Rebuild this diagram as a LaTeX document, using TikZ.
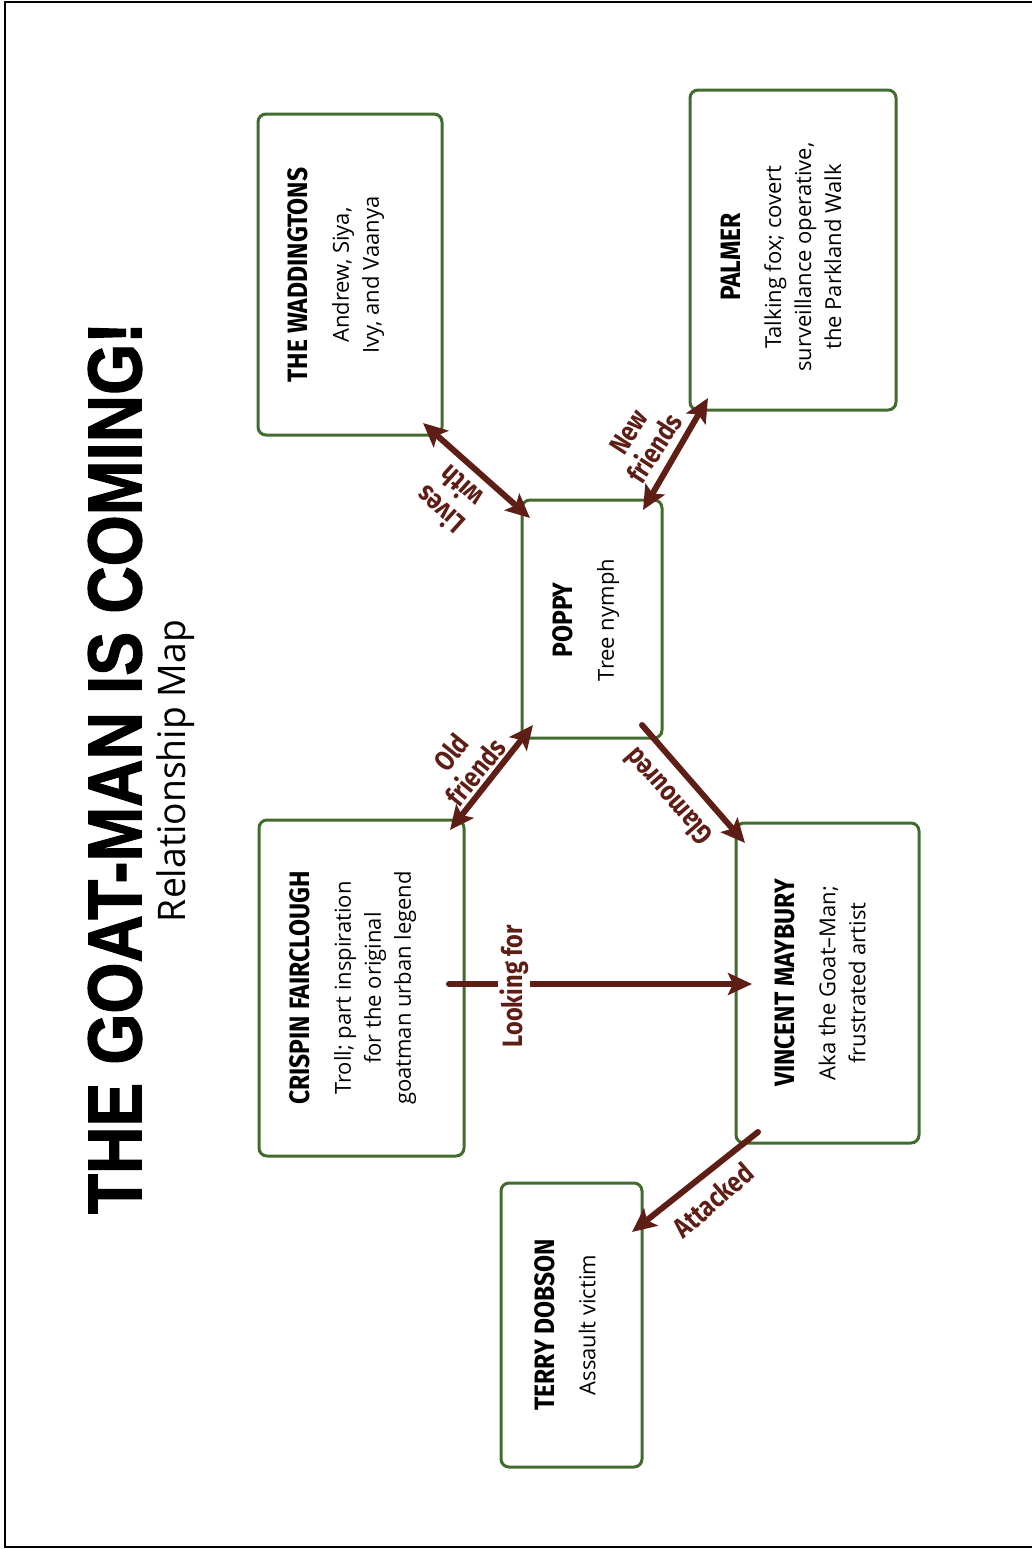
\documentclass[tikz,border=0pt]{standalone}
\usepackage{fontspec}
\usepackage{graphicx}
\usetikzlibrary{arrows.meta,calc}

\newfontfamily\headfont{Fira Sans}[FakeStretch=0.88]
\newfontfamily\labelfont{Fira Sans}[FakeStretch=0.84]
\newfontfamily\bodyfont{Open Sans}
\newfontfamily\titlefont{Liberation Sans}[FakeBold=1.6]

\definecolor{boxgreen}{RGB}{66,108,46}
\definecolor{linkred}{RGB}{94,30,22}

% heading + description inside a character card
\newcommand\card[2]{{\headfont\bfseries\fontsize{14}{15}\selectfont #1}\\[5.5pt]#2}

\tikzset{
  person/.style={draw=boxgreen, line width=1.5pt, rounded corners=4pt,
                 inner sep=0pt, outer sep=0pt},
  persontext/.style={rotate=90, align=center, inner sep=0pt,
                     font=\bodyfont\fontsize{11}{15}\selectfont},
  tipshape/.tip={Stealth[length=12pt,width=11pt,inset=2.5pt]},
  link/.style={draw=linkred, line width=3pt, line cap=round, -tipshape},
  twoway/.style={draw=linkred, line width=3pt, tipshape-tipshape},
  linklabel/.style={text=linkred, align=center, inner sep=1pt,
                    font=\labelfont\bfseries\fontsize{14}{15.5}\selectfont},
}

\begin{document}
\begin{tikzpicture}[x=0.5pt,y=-0.5pt]
\useasboundingbox (0,0) rectangle (1032,1549);

% page frame
\draw[line width=1pt] (1032,1.5) -- (5,1.5) -- (5,1546.5) -- (1032,1546.5);

% title block
\node[rotate=90, inner sep=0pt] (title) at (115,768)
  {\resizebox*{446pt}{27pt}{\titlefont\bfseries THE GOAT-MAN IS COMING!}};
\node[rotate=90, inner sep=0pt] (subtitle) at (176,771)
  {\resizebox*{151pt}{19pt}{\bodyfont Relationship Map}};

% character cards
\node[person, minimum width=92pt,   minimum height=160.5pt] (wad)     at (350,274.5) {};
\node[person, minimum width=103pt,  minimum height=160pt]   (palmer)  at (793,250)   {};
\node[person, minimum width=70pt,   minimum height=119pt]   (poppy)   at (592,619)   {};
\node[person, minimum width=102.5pt,minimum height=168pt]   (crispin) at (361.5,988) {};
\node[person, minimum width=91.5pt, minimum height=160pt]   (vincent) at (827.5,983) {};
\node[person, minimum width=70.5pt, minimum height=142pt]   (terry)   at (571.5,1325){};

\node[persontext] (wadtxt) at (336,275)
  {\card{THE WADDINGTONS}{Andrew, Siya,\\Ivy, and Vaanya}};
\node[persontext] (palmertxt) at (781,257)
  {\card{PALMER}{Talking fox; covert\\surveillance operative,\\the Parkland Walk}};
\node[persontext] (poppytxt) at (586,620)
  {\card{POPPY}{Tree nymph}};
\node[persontext] (crispintxt) at (353,988)
  {\card{CRISPIN FAIRCLOUGH}{Troll; part inspiration\\for the original\\goatman urban legend}};
\node[persontext] (vincenttxt) at (820,983)
  {\card{VINCENT MAYBURY}{Aka the Goat–Man;\\frustrated artist}};
\node[persontext] (terrytxt) at (565,1325)
  {\card{TERRY DOBSON}{Assault victim}};

% relationships
\draw[twoway] ($(wad.south east)+(-19,-12)$) -- ($(poppy.north west)+(8,18)$);
\draw[twoway] ($(poppy.north east)+(-19,10)$) -- ($(palmer.south west)+(18,-12)$);
\draw[twoway] ($(crispin.north east)+(-14,10)$) -- ($(poppy.south west)+(11,-13)$);
\draw[link] ($(poppy.south east)+(-20,-13)$) -- ($(vincent.north west)+(9,20)$);
\draw[link] ($(crispin.east)+(-15,-4)$) -- ($(vincent.west)+(16,1)$);
\draw[link] ($(vincent.south west)+(22,-11)$) -- ($(terry.north east)+(-10,49)$);

% relationship labels
\node[linklabel, rotate=138] (liveslbl) at (450,499) {Lives\\with};
\node[linklabel, rotate=57]  (newlbl)   at (642,440) {New\\friends};
\node[linklabel, rotate=51]  (oldlbl)   at (463,762) {Old\\friends};
\node[linklabel, rotate=131] (glamlbl)  at (668,797) {Glamoured};
\node[linklabel, rotate=90, fill=white] (looklbl) at (514,986) {Looking for};
\node[linklabel, rotate=41]  (attlbl)   at (713,1200) {Attacked};
\end{tikzpicture}
\end{document}
